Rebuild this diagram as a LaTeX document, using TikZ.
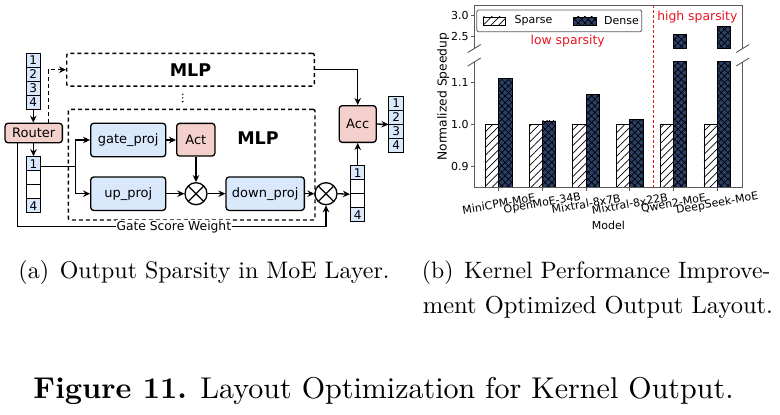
\documentclass[tikz,border=0pt]{standalone}
\usepackage{fontspec}
\usepackage{graphicx}
\usetikzlibrary{arrows.meta,patterns.meta,calc}
\newfontfamily\dv{DejaVu Sans}
\definecolor{bxblue}{HTML}{DAE8FC}
\definecolor{bxpink}{HTML}{F4D0CD}
\definecolor{navy}{HTML}{2C3F68}
\definecolor{spinec}{HTML}{5A5A5A}
\definecolor{redtxt}{HTML}{E8141E}
\begin{document}
\begin{tikzpicture}[x=1pt,y=-1pt,
  box/.style={draw=black, line width=1.3pt, rounded corners=3pt, inner sep=0pt, font=\dv\fontsize{13}{15}\selectfont},
  bbox/.style={box, fill=bxblue},
  pbox/.style={box, fill=bxpink},
  cellb/.style={draw=black, line width=1pt, fill=bxblue, minimum width=14.5pt, minimum height=14pt, inner sep=0pt, font=\dv\fontsize{12}{12}\selectfont},
  cellw/.style={cellb, fill=white},
  ln/.style={line width=1.3pt},
  arr/.style={line width=1.3pt, -{Stealth[length=7pt,width=6.5pt]}},
  dbox/.style={draw, line width=1.4pt, dash pattern=on 4pt off 3pt, rounded corners=2pt, inner sep=0pt},
  mul/.style={circle, draw, line width=1.3pt, fill=white, minimum size=22pt, inner sep=0pt,
     path picture={\draw[line width=1.3pt] (path picture bounding box.north west) -- (path picture bounding box.south east)
       (path picture bounding box.north east) -- (path picture bounding box.south west);}},
  tick/.style={font=\dv\fontsize{11}{12}\selectfont, inner sep=0pt},
  spn/.style={draw=spinec, line width=0.9pt},
  sparsebar/.style={draw=black, line width=0.8pt, pattern={Lines[angle=45,distance=5.5pt,line width=0.7pt]}},
  densebar/.style={draw=black, line width=0.8pt, preaction={fill=navy}, pattern={Hatch[angle=45,distance=4.7pt,line width=0.7pt]}},
  caption/.style={anchor=base west, inner sep=0pt},
  sepline/.style={draw=redtxt, line width=1.3pt, dash pattern=on 3pt off 2pt}
]
\useasboundingbox (0,0) rectangle (780,415);

% ---------------- left diagram ----------------
\node[cellb] (i1) at (33.3,60.3) {1};
\node[cellb] (i2) at (33.3,74.3) {2};
\node[cellb] (i3) at (33.3,88.3) {3};
\node[cellb] (i4) at (33.3,102.3) {4};
\node[pbox, minimum width=57.3pt, minimum height=19.4pt] (router) at (33.7,133) {Router};
\node[cellb] (s1) at (33.5,163.7) {1};
\node[cellw] (s2) at (33.5,177.7) {};
\node[cellw] (s3) at (33.5,191.7) {};
\node[cellb] (s4) at (33.5,205.7) {4};

\node[dbox, minimum width=247.6pt, minimum height=32.7pt, font=\dv\bfseries\fontsize{17.5}{18}\selectfont] (mlpT) at (190.5,69.7) {MLP};
\node[dbox, minimum width=246.7pt, minimum height=110.7pt] (mlpB) at (191.65,164.65) {};
\node[font=\dv\bfseries\fontsize{17.5}{18}\selectfont, inner sep=0pt] (mlpBl) at (258,138) {MLP};
\fill (182.7,94.3) circle (0.8) (182.7,97.9) circle (0.8) (182.7,101.5) circle (0.8);

\node[bbox, minimum width=75pt, minimum height=33.4pt] (gate) at (128.2,140) {gate\_proj};
\node[bbox, minimum width=75pt, minimum height=33.4pt] (up) at (128.2,193.7) {up\_proj};
\node[pbox, minimum width=38.3pt, minimum height=32.7pt] (act) at (195.8,139.7) {Act};
\node[mul] (mul1) at (196,193.7) {};
\node[bbox, minimum width=78.3pt, minimum height=33.4pt] (down) at (265.2,193.7) {down\_proj};
\node[mul] (mul2) at (326,193.7) {};
\node[cellb] (r1) at (357.7,172.7) {1};
\node[cellw] (r2) at (357.7,186.7) {};
\node[cellw] (r3) at (357.7,200.7) {};
\node[cellb] (r4) at (357.7,214.7) {4};
\node[pbox, minimum width=37pt, minimum height=36.7pt] (acc) at (357.7,124) {Acc};
\node[cellb] (o1) at (396.2,103) {1};
\node[cellb] (o2) at (396.2,117) {2};
\node[cellb] (o3) at (396.2,131) {3};
\node[cellb] (o4) at (396.2,145) {4};

\draw[arr] (i4.south) -- (i4.south |- router.north);
\draw[arr, dash pattern=on 4pt off 3pt] ($(router.north east)+(-14.6,0)$) |- (mlpT.west);
\draw[arr] (router.south -| s1.north) -- (s1.north);
\coordinate (br) at (75.7,166.2);
\draw[ln] (s1.east |- br) -- (br);
\draw[arr] (br) |- (gate.west);
\draw[arr] (br) |- (up.west);
\draw[arr] (gate.east) -- (act.west |- gate.east);
\draw[arr] (act.south -| mul1.north) -- (mul1.north);
\draw[arr] (up.east) -- (mul1.west);
\draw[arr] (mul1.east) -- (down.west);
\draw[arr] (down.east) -- (mul2.west);
\draw[arr] (mul2.east) -- (r2.south west);
\draw[arr] (r1.north) -- (acc.south);
\draw[arr] (mlpT.east) -| (acc.north);
\draw[arr] (acc.east) -- (o2.south west);
\coordinate (gsw) at (17.3,226.7);
\draw[arr] (router.south -| gsw) -- (gsw) -| (mul2.south);
\node[fill=white, inner sep=0.6pt, font=\dv\fontsize{12.3}{13}\selectfont] (gsl) at (173.8,226.7) {Gate Score Weight};

% ---------------- right chart ----------------
\foreach \c in {498.7,542.4,586.1,629.8,673.5,717.2}{
  \draw[sparsebar] (\c-13.3,187.7) rectangle (\c,124.7);
}
\foreach \c/\t in {498.7/78.5,542.4/120.9,586.1/94.5,629.8/119.0,673.5/61.7,717.2/61.7}{
  \draw[densebar] (\c,187.7) rectangle (\c+13.3,\t);
}
\draw[densebar] (673.5,48.5) rectangle (686.8,34.3);
\draw[densebar] (717.2,48.5) rectangle (730.5,26);

% frame
\draw[spn] (474.3,5) -- (742.7,5);
\draw[spn] (474.3,187.7) -- (742.7,187.7);
\draw[spn] (474.3,5) -- (474.3,48.5) (474.3,61.7) -- (474.3,187.7);
\draw[spn] (742.7,5) -- (742.7,48.5) (742.7,61.7) -- (742.7,187.7);
\draw[spn] (467.8,52.5) -- (480.8,44.5) (467.8,66) -- (480.8,58);
\draw[spn] (736.2,52.5) -- (749.2,44.5) (736.2,66) -- (749.2,58);

% y ticks
\foreach \y/\l in {15.2/3.0,36.7/2.5,82.7/1.1,124.7/1.0,166.7/0.9}{
  \draw[spn] (474.3,\y) -- (470.8,\y);
  \node[tick, anchor=east] at (468.8,\y) {\l};
}
% x ticks
\foreach \c/\l in {498.7/MiniCPM-MoE,542.4/OpenMoE-34B,586.1/Mixtral-8x7B,629.8/Mixtral-8x22B,673.5/Qwen2-MoE,717.2/DeepSeek-MoE}{
  \draw[spn] (\c,187.7) -- (\c,191.2);
  \node[tick, rotate=10] at (\c,203.8) {\l};
}
\node[tick] (xlab) at (608.3,225.7) {Model};
\node[tick, rotate=90, font=\dv\fontsize{12.3}{13}\selectfont] (ylab) at (443.3,96.7) {Normalized Speedup};

% red separator
\coordinate (sepT) at (653.3,5);
\coordinate (sepB) at (653.3,187.7);
\path[sepline] (sepT) -- (sepB);
\node[font=\dv\fontsize{12.4}{13}\selectfont, text=redtxt, inner sep=0pt] (low) at (567.7,40.7) {low sparsity};
\node[font=\dv\fontsize{12.4}{13}\selectfont, text=redtxt, inner sep=0pt] (high) at (697.3,17.3) {high sparsity};

% legend
\draw[spn, fill=white, rounded corners=1.5pt] (476.7,10) rectangle (641.7,31.7);
\draw[sparsebar] (483.3,16.9) rectangle (505,25);
\node[tick, anchor=west] (lsp) at (514.5,21) {Sparse};
\draw[densebar] (573.3,16.9) rectangle (596,25);
\node[tick, anchor=west] (lde) at (604,21) {Dense};

% ---------------- captions ----------------
\node[caption] (capa) at (18.3,278.5) {\resizebox{371pt}{!}{(a)\hspace{0.45em}Output Sparsity in MoE Layer.}};
\node[caption] (capb1) at (421.7,278.5) {\resizebox{348.5pt}{!}{(b)\hspace{0.45em}Kernel Performance Improve-}};
\node[caption] (capb2) at (422.7,313) {\resizebox{350pt}{!}{ment Optimized Output Layout.}};
\node[caption] (fig) at (33.3,398) {\resizebox{700pt}{!}{\textbf{Figure 11.} Layout Optimization for Kernel Output.}};
\end{tikzpicture}
\end{document}
